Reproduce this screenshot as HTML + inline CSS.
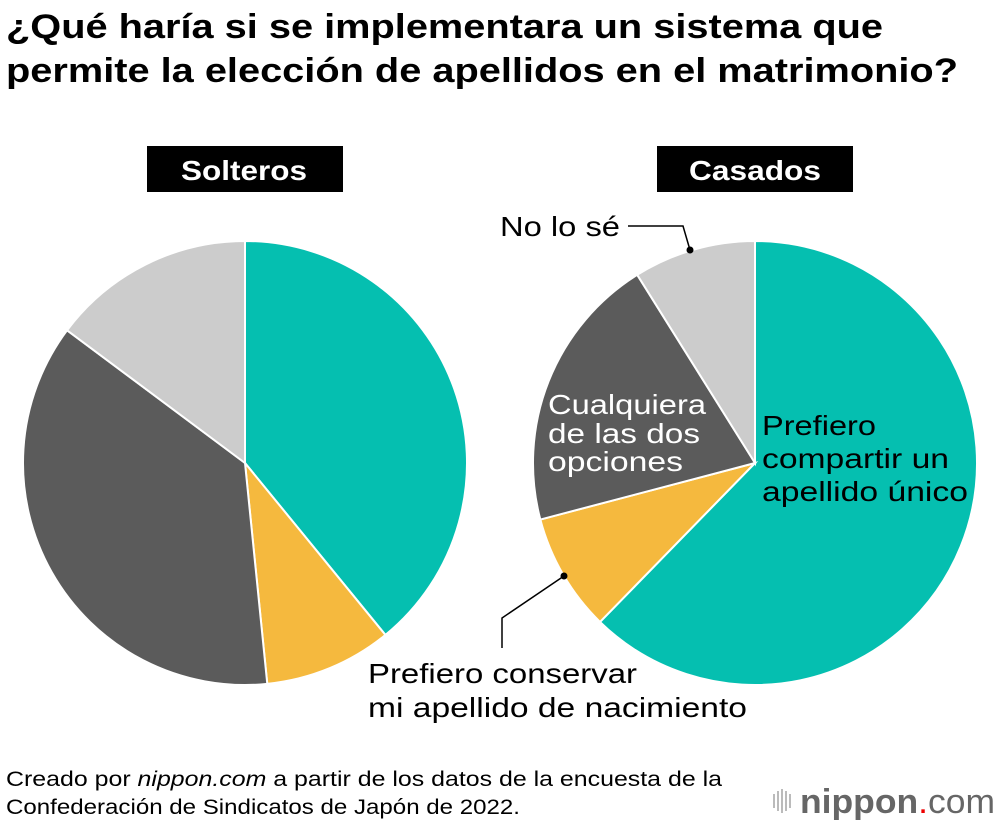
<!DOCTYPE html>
<html><head><meta charset="utf-8"><style>
body{margin:0;width:1000px;height:824px;background:#fff;font-family:"Liberation Sans",sans-serif;overflow:hidden;position:relative}
</style></head><body>
<svg id="s" width="1000" height="824" style="position:absolute;left:0;top:0" font-family="Liberation Sans, sans-serif">
<g font-size="34" font-weight="bold">
<text x="6" y="38" textLength="877" lengthAdjust="spacingAndGlyphs">¿Qué haría si se implementara un sistema que</text>
<text x="6" y="82" textLength="952" lengthAdjust="spacingAndGlyphs">permite la elección de apellidos en el matrimonio?</text>
</g>
<rect x="147" y="146" width="196" height="46" fill="#000"/>
<rect x="657" y="146" width="196" height="46" fill="#000"/>
<text x="181" y="180" font-size="28" font-weight="bold" fill="#fff" textLength="126" lengthAdjust="spacingAndGlyphs">Solteros</text>
<text x="689" y="180" font-size="28" font-weight="bold" fill="#fff" textLength="132" lengthAdjust="spacingAndGlyphs">Casados</text>
<g id="g"></g>
<g font-size="28" fill="#000">
<text x="500" y="236" textLength="120" lengthAdjust="spacingAndGlyphs">No lo sé</text>
<g fill="#fff">
<text x="548" y="414" textLength="158" lengthAdjust="spacingAndGlyphs">Cualquiera</text>
<text x="548" y="443" textLength="152" lengthAdjust="spacingAndGlyphs">de las dos</text>
<text x="548" y="471" textLength="135" lengthAdjust="spacingAndGlyphs">opciones</text>
</g>
<g>
<text x="762" y="435" textLength="114" lengthAdjust="spacingAndGlyphs">Prefiero</text>
<text x="762" y="468" textLength="187" lengthAdjust="spacingAndGlyphs">compartir un</text>
<text x="762" y="501" textLength="206" lengthAdjust="spacingAndGlyphs">apellido único</text>
</g>
<g>
<text x="368" y="683" textLength="269" lengthAdjust="spacingAndGlyphs">Prefiero conservar</text>
<text x="368" y="717" textLength="379" lengthAdjust="spacingAndGlyphs">mi apellido de nacimiento</text>
</g>
</g>
<polyline points="628,226 683,226 690,250" fill="none" stroke="#000" stroke-width="1.5"/>
<circle cx="690" cy="250" r="3.5"/>
<polyline points="502,648 502,618 564,576" fill="none" stroke="#000" stroke-width="1.5"/>
<circle cx="564" cy="576" r="3.5"/>
<g font-size="21">
<text x="6" y="786" textLength="716" lengthAdjust="spacingAndGlyphs">Creado por <tspan font-style="italic">nippon.com</tspan> a partir de los datos de la encuesta de la</text>
<text x="6" y="814" textLength="514" lengthAdjust="spacingAndGlyphs">Confederación de Sindicatos de Japón de 2022.</text>
</g>
<g>
<g stroke="#bbb" stroke-width="2"><line x1="774" y1="794" x2="774" y2="808"/><line x1="778" y1="791" x2="778" y2="811"/><line x1="782" y1="789" x2="782" y2="813"/><line x1="786" y1="791" x2="786" y2="811"/><line x1="790" y1="794" x2="790" y2="808"/></g>
<text x="800" y="813" font-size="34" fill="#666" textLength="195" lengthAdjust="spacingAndGlyphs"><tspan font-weight="bold">nippon</tspan><tspan fill="#e00">.</tspan>com</text>
</g>
</svg>
<script>
const categories=["Prefiero compartir un apellido único","Prefiero conservar mi apellido de nacimiento","Cualquiera de las dos opciones","No lo sé"];
const solteros=[39.1,9.3,36.8,14.8];
const casados=[62.3,8.6,20.2,8.9];
const colors=["#05bfb0","#f5b93e","#5b5b5b","#cccccc"];
const g=document.getElementById('g');
function pie(cx,cy,r,vals,name){
  const tot=vals.reduce((a,b)=>a+b,0);let a0=0;
  vals.forEach((v,i)=>{
    const a1=a0+v/tot*2*Math.PI;
    const x0=cx+r*Math.sin(a0),y0=cy-r*Math.cos(a0),x1=cx+r*Math.sin(a1),y1=cy-r*Math.cos(a1);
    const p=document.createElementNS('http://www.w3.org/2000/svg','path');
    p.setAttribute('d',`M${cx},${cy}L${x0},${y0}A${r},${r} 0 ${a1-a0>Math.PI?1:0} 1 ${x1},${y1}Z`);
    p.setAttribute('fill',colors[i]);p.setAttribute('stroke','#fff');p.setAttribute('stroke-width','2');
    
    
    g.appendChild(p);a0=a1;
  });
}
pie(245,463,222,solteros,'solteros');
pie(755,463,222,casados,'casados');
</script>
</body></html>
